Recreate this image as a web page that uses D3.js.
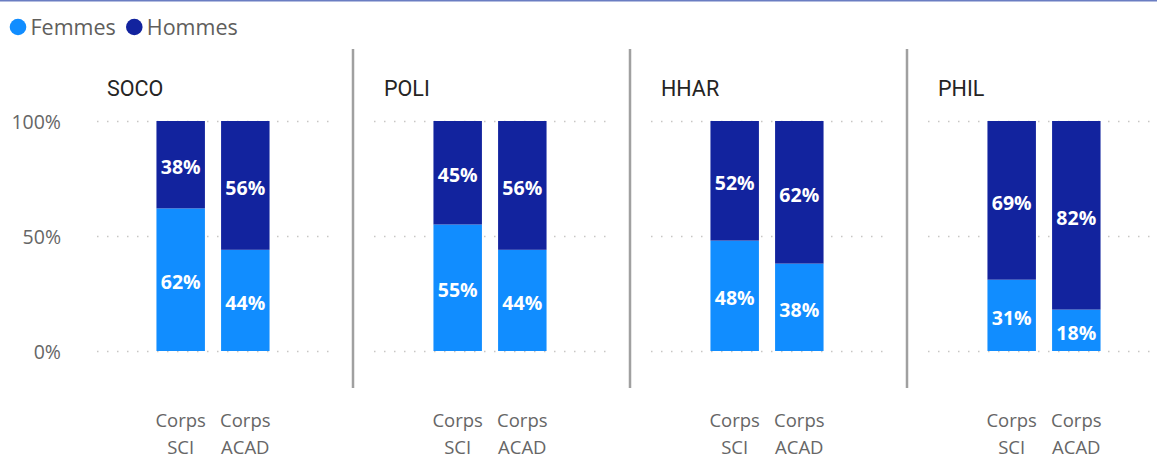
<!DOCTYPE html>
<html>
<head>
<meta charset="utf-8">
<script src="https://cdn.jsdelivr.net/npm/d3@7/dist/d3.min.js"></script>
<style>
  html, body { margin: 0; padding: 0; background: #fff; }
  svg { display: block; }
</style>
</head>
<body>
<svg id="chart" width="1157" height="467"></svg>
<script>
// Gender split by discipline and staff body (share of each bar)
const disciplines = ["SOCO", "POLI", "HHAR", "PHIL"];
const corps = ["Corps SCI", "Corps ACAD"];
const femmes = [[62, 44], [55, 44], [48, 38], [31, 18]];
const hommes = [[38, 56], [45, 56], [52, 62], [69, 82]];
const yTicks = [0, 50, 100];
const seriesNames = ["Femmes", "Hommes"];

const colors = { Femmes: "#118DFF", Hommes: "#12239E" };
const font = "'Open Sans', 'Noto Sans', sans-serif";

const svg = d3.select("#chart");

// thin top frame line
svg.append("rect").attr("x", 0).attr("y", 0).attr("width", 1157).attr("height", 1.5)
  .attr("fill", "#6a7dc2");

// legend
const legend = svg.append("g");
let lx = 18;
seriesNames.forEach(name => {
  legend.append("circle").attr("cx", lx).attr("cy", 27).attr("r", 8.3).attr("fill", colors[name]);
  const t = legend.append("text").attr("x", lx + 12.5).attr("y", 34.5)
    .attr("font-family", font).attr("font-size", 21.5).attr("fill", "#605E5C").text(name);
  lx += 12.5 + t.node().getComputedTextLength() + 18.5;
});

const y = d3.scaleLinear().domain([0, 100]).range([351, 121]);

// y axis labels
const yAxis = svg.append("g").attr("transform", "translate(61,0)")
  .call(d3.axisLeft(y).tickValues(yTicks).tickFormat(d => d + "%").tickSize(0).tickPadding(0));
yAxis.select(".domain").remove();
yAxis.selectAll("text").attr("font-family", font).attr("font-size", 19.5).attr("fill", "#666")
  .attr("dy", "0.36em");

const panelStep = 277;
const plotLeft = 97;
const plotWidth = 232;

const x = d3.scaleBand().domain(corps).range([0, plotWidth]).paddingInner(0.25).paddingOuter(0.92);

disciplines.forEach((disc, i) => {
  const g = svg.append("g").attr("transform", `translate(${plotLeft + i * panelStep},0)`);

  // dotted gridlines
  const gridW = i === 3 ? 240 : plotWidth;
  g.append("g").call(d3.axisLeft(y).tickValues(yTicks).tickSize(-gridW).tickFormat(""))
    .call(a => a.select(".domain").remove())
    .selectAll("line").attr("stroke", "#c8c6c4").attr("stroke-width", 1.5)
    .attr("stroke-dasharray", "1.5,8.5");

  // panel title
  g.append("text").attr("x", 10).attr("y", 95.5)
    .attr("font-family", "'Roboto', 'DejaVu Sans', sans-serif").attr("font-size", 21.5)
    .attr("fill", "#252423").text(disc);

  const rows = corps.map((c, j) => ({ corps: c, Femmes: femmes[i][j], Hommes: hommes[i][j] }));
  const stacked = d3.stack().keys(seriesNames)(rows);

  stacked.forEach(layer => {
    const lg = g.append("g");
    lg.selectAll("rect").data(layer).join("rect")
      .attr("x", d => x(d.data.corps))
      .attr("width", x.bandwidth())
      .attr("y", d => y(d[1]))
      .attr("height", d => y(d[0]) - y(d[1]))
      .attr("fill", colors[layer.key]);
    lg.selectAll("text").data(layer).join("text")
      .attr("x", d => x(d.data.corps) + x.bandwidth() / 2)
      .attr("y", d => (y(d[0]) + y(d[1])) / 2 + 9.5)
      .attr("text-anchor", "middle")
      .attr("font-family", font).attr("font-weight", "bold").attr("font-size", 19.5)
      .attr("fill", "#fff")
      .text(d => (d[1] - d[0]) + "%");
  });

  // category labels, two lines
  corps.forEach(c => {
    const t = g.append("text").attr("text-anchor", "middle")
      .attr("font-family", font).attr("font-size", 18.5).attr("fill", "#666");
    c.split(" ").forEach((w, k) => {
      t.append("tspan").attr("x", x(c) + x.bandwidth() / 2).attr("y", 426.5 + k * 27.5).text(w);
    });
  });

  // separator between panels
  if (i < disciplines.length - 1) {
    svg.append("line")
      .attr("x1", 353 + i * panelStep).attr("x2", 353 + i * panelStep)
      .attr("y1", 49).attr("y2", 388)
      .attr("stroke", "#a0a0a0").attr("stroke-width", 2.5);
  }
});
</script>
</body>
</html>
